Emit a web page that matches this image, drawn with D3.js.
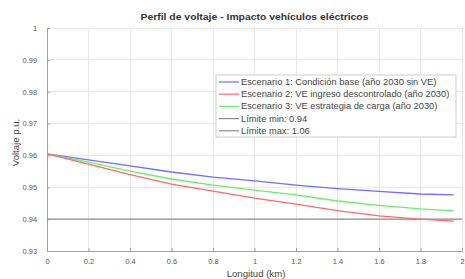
<!DOCTYPE html>
<html><head><meta charset="utf-8">
<script src="https://cdn.jsdelivr.net/npm/d3@7"></script>
<style>body{margin:0;background:#fff}svg{display:block}text{font-family:"Liberation Sans",Arial,sans-serif}</style>
</head><body>
<svg id="c" width="465" height="279"></svg>
<script>
const distanceKm = [0, 0.2, 0.4, 0.6, 0.8, 1.0, 1.2, 1.4, 1.6, 1.8, 1.96];
const scenario1 = [0.9605, 0.9586, 0.9567, 0.9548, 0.9532, 0.9520, 0.9507, 0.9496, 0.9487, 0.9479, 0.9476];
const scenario2 = [0.9605, 0.9573, 0.9540, 0.9510, 0.9488, 0.9466, 0.9447, 0.9427, 0.9410, 0.9400, 0.9394];
const scenario3 = [0.9605, 0.9579, 0.9551, 0.9526, 0.9507, 0.9491, 0.9476, 0.9457, 0.9443, 0.9432, 0.9426];
const limitMin = 0.94, limitMax = 1.06;
const xTicks = [0, 0.2, 0.4, 0.6, 0.8, 1, 1.2, 1.4, 1.6, 1.8, 2];
const yTicks = [0.93, 0.94, 0.95, 0.96, 0.97, 0.98, 0.99, 1];
const seriesNames = ["Escenario 1: Condición base (año 2030 sin VE)", "Escenario 2: VE ingreso descontrolado (año 2030)", "Escenario 3: VE estrategia de carga (año 2030)", "Límite min: 0.94", "Límite max: 1.06"];
const seriesColors = ["#6e6eff", "#ff6a6a", "#6aee6a", "#8c8c8c", "#8c8c8c"];

const svg = d3.select("#c");
const m = {l:47, r:3, t:28, b:28};
const W = 465, H = 279;
const x = d3.scaleLinear().domain([0,2]).range([m.l, W-m.r]);
const y = d3.scaleLinear().domain([0.93,1]).range([H-m.b, m.t]);

// grid
svg.append("g").selectAll("line").data(xTicks).join("line")
  .attr("x1",d=>x(d)).attr("x2",d=>x(d)).attr("y1",y(0.93)).attr("y2",y(1))
  .attr("stroke","#e8e8e8").attr("stroke-width",1).attr("shape-rendering","crispEdges");
svg.append("g").selectAll("line").data(yTicks).join("line")
  .attr("y1",d=>y(d)).attr("y2",d=>y(d)).attr("x1",x(0)).attr("x2",x(2))
  .attr("stroke","#e8e8e8").attr("stroke-width",1).attr("shape-rendering","crispEdges");

// axes
const xAxis = d3.axisBottom(x).tickValues(xTicks).tickSize(-3).tickPadding(8).tickFormat(d=>d3.format("~g")(d));
const yAxis = d3.axisLeft(y).tickValues(yTicks).tickSize(-3).tickPadding(10).tickFormat(d=>d3.format("~g")(d));
const gx = svg.append("g").attr("transform",`translate(0,${y(0.93)})`).call(xAxis);
const gy = svg.append("g").attr("transform",`translate(${x(0)},0)`).call(yAxis);
[gx,gy].forEach(g=>{
  g.select(".domain").attr("stroke","#a0a0a0");
  g.selectAll(".tick line").attr("stroke","#a0a0a0");
  g.selectAll(".tick text").attr("fill","#555").attr("font-size",7.4).attr("font-family","Liberation Sans, Arial, sans-serif");
});

// limit line
svg.append("line").attr("x1",x(0)).attr("x2",x(2)).attr("y1",y(limitMin)).attr("y2",y(limitMin))
  .attr("stroke",seriesColors[3]).attr("stroke-width",1.2);

const line = d3.line().x((d,i)=>x(distanceKm[i])).y(d=>y(d));
[[scenario1,0],[scenario3,2],[scenario2,1]].forEach(([s,i])=>{
  svg.append("path").datum(s).attr("d",line).attr("fill","none")
    .attr("stroke",seriesColors[i]).attr("stroke-width",1.3);
});

// title & labels
svg.append("text").attr("x",(x(0)+x(2))/2).attr("y",20).attr("text-anchor","middle")
  .attr("font-size",9.6).attr("font-weight","bold").attr("fill","#333")
  .attr("textLength",228).attr("lengthAdjust","spacingAndGlyphs")
  .text("Perfil de voltaje - Impacto vehículos eléctricos");
svg.append("text").attr("x",256).attr("y",277).attr("text-anchor","middle")
  .attr("font-size",9.6).attr("fill","#444").text("Longitud (km)");
svg.append("text").attr("transform",`translate(19,${(y(0.93)+y(1))/2 + 3}) rotate(-90)`).attr("text-anchor","middle")
  .attr("font-size",9.6).attr("fill","#444").text("Voltaje p.u.");

// legend
const lg = svg.append("g").attr("transform","translate(216,75)");
lg.append("rect").attr("width",240).attr("height",62).attr("fill","#fff").attr("stroke","#c0c0c0").attr("stroke-width",0.8);
seriesNames.forEach((n,i)=>{
  const yy = 7 + i*12.2;
  lg.append("line").attr("x1",3).attr("x2",23).attr("y1",yy).attr("y2",yy).attr("stroke",seriesColors[i]).attr("stroke-width",1.2);
  lg.append("text").attr("x",25).attr("y",yy+3).attr("font-size",9.3).attr("fill","#444").text(n);
});
</script>
</body></html>
